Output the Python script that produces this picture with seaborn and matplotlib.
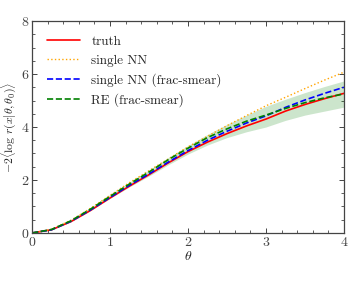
import numpy as np
import pandas as pd
import matplotlib
matplotlib.use('Agg')
import matplotlib.pyplot as plt
import seaborn as sns
from matplotlib.ticker import MultipleLocator

# values
theta = [0, 0.25, 0.5, 0.75, 1.0, 1.25, 1.5, 1.75, 2.0, 2.25, 2.5, 2.75, 3.0, 3.25, 3.5, 3.75, 4.0]
truth = [0, 0.12, 0.43, 0.85, 1.32, 1.77, 2.2, 2.65, 3.07, 3.43, 3.75, 4.04, 4.3, 4.6, 4.85, 5.07, 5.27]
single_nn = [0, 0.14, 0.48, 0.93, 1.42, 1.9, 2.35, 2.8, 3.25, 3.65, 4.05, 4.43, 4.8, 5.12, 5.45, 5.77, 6.07]
single_nn_smear = [0, 0.12, 0.44, 0.87, 1.34, 1.8, 2.23, 2.68, 3.11, 3.5, 3.84, 4.15, 4.42, 4.74, 5.02, 5.27, 5.5]
re_smear = [0, 0.13, 0.46, 0.9, 1.38, 1.85, 2.3, 2.77, 3.2, 3.6, 3.93, 4.22, 4.45, 4.7, 4.92, 5.1, 5.25]
re_upper = [0, 0.15, 0.5, 0.96, 1.45, 1.92, 2.38, 2.85, 3.3, 3.72, 4.1, 4.45, 4.78, 5.05, 5.3, 5.53, 5.74]
re_lower = [0, 0.11, 0.42, 0.84, 1.3, 1.74, 2.15, 2.58, 2.98, 3.32, 3.6, 3.82, 4.0, 4.25, 4.45, 4.6, 4.75]

sns.set_style('ticks')
plt.rcParams['font.family'] = ['cmr10', 'DejaVu Serif']
plt.rcParams['mathtext.fontset'] = 'cm'
plt.rcParams['axes.formatter.use_mathtext'] = True
plt.rcParams['xtick.direction'] = 'in'
plt.rcParams['ytick.direction'] = 'in'

fig = plt.figure(figsize=(3.52, 2.81), dpi=100)
ax = fig.add_axes([0.091, 0.171, 0.886, 0.754])

df = pd.DataFrame({'theta': theta, 'truth': truth, 'nn': single_nn,
                   'nn_smear': single_nn_smear, 're': re_smear})

ax.fill_between(theta, re_lower, re_upper, color='green', alpha=0.2, lw=0)
sns.lineplot(data=df, x='theta', y='truth', color='red', lw=1.2, label='truth', ax=ax)
sns.lineplot(data=df, x='theta', y='nn', color='orange', lw=1.0, ls=':', label='single NN', ax=ax)
sns.lineplot(data=df, x='theta', y='nn_smear', color='blue', lw=1.2, ls='--', label='single NN (frac-smear)', ax=ax)
sns.lineplot(data=df, x='theta', y='re', color='green', lw=1.2, ls='--', label='RE (frac-smear)', ax=ax)

ax.set_xlim(0, 4)
ax.set_ylim(0, 8)
ax.xaxis.set_major_locator(MultipleLocator(1))
ax.xaxis.set_minor_locator(MultipleLocator(0.2))
ax.yaxis.set_major_locator(MultipleLocator(2))
ax.yaxis.set_minor_locator(MultipleLocator(0.5))
ax.tick_params(which='both', top=True, right=True, labelsize=10, colors='#444444', pad=2)
ax.tick_params(which='major', length=3.5, width=0.7)
ax.tick_params(which='minor', length=2, width=0.6)
for s in ax.spines.values():
    s.set_color('#444444')
    s.set_linewidth(0.9)

ax.set_xlabel(r'$\theta$', fontsize=10, labelpad=1)
ax.set_ylabel(r'$-2\langle\log\,r(x|\theta,\theta_0)\rangle$', fontsize=8.5, labelpad=2)

ax.legend(loc='upper left', frameon=False, fontsize=9.5, handlelength=2.5,
          labelspacing=0.5, borderaxespad=0.7, handletextpad=0.9)

fig.savefig('out.png', dpi=100)
